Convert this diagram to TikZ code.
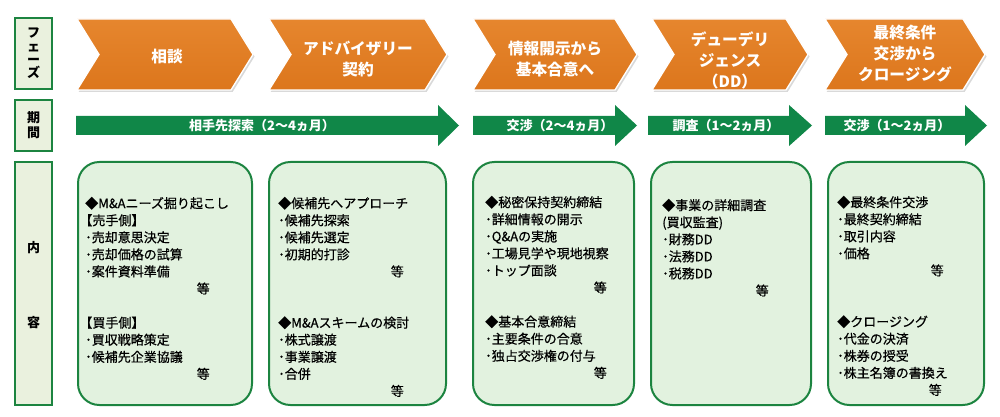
\documentclass[tikz,border=0pt]{standalone}
\usepackage{fontspec}
\setmainfont{Noto Sans CJK JP}
\newfontfamily\itemfont{Noto Sans CJK JP}[FakeBold=0.5]
\usetikzlibrary{shadows}

\definecolor{phaseorange}{RGB}{220,118,28}
\definecolor{phaseorangelt}{RGB}{230,134,46}
\definecolor{termgreen}{RGB}{16,135,72}
\definecolor{framegreen}{RGB}{28,132,64}
\definecolor{boxfill}{RGB}{226,242,223}
\definecolor{lblfill}{RGB}{234,241,222}

\begin{document}
\begin{tikzpicture}[x=0.75pt, y=-0.75pt,
    chevron/.style={top color=phaseorangelt, bottom color=phaseorange, draw=white, line width=1pt,
        drop shadow={shadow xshift=1.2pt, shadow yshift=-1.5pt, opacity=0.3}},
    termarrow/.style={fill=termgreen},
    phasetxt/.style={font=\fontsize{11.75}{15.75}\selectfont\bfseries, text=white, align=center},
    termtxt/.style={font=\fontsize{9.75}{12}\selectfont\bfseries, text=white},
    lbl/.style={draw=framegreen, line width=1.5pt, fill=lblfill, minimum width=27.75pt, inner sep=0pt},
    lbltxt/.style={font=\fontsize{9.75}{10}\selectfont\bfseries, align=center},
    itembox/.style={draw=framegreen, line width=1.5pt, fill=boxfill, rounded corners=16pt, minimum height=182.25pt, inner sep=0pt},
    itemtxt/.style={font=\itemfont\fontsize{9.75}{12.8}\selectfont, align=left, anchor=north west, inner sep=0pt}
]

% Canvas
\useasboundingbox (0,0) rectangle (1000,417);

% Row labels
\node[lbl, minimum height=53.25pt, lbltxt] (phaselbl) at (33.5,53.5) {フ\\ェ\\ー\\ズ};
\node[lbl, minimum height=38.25pt] (termlbl) at (33.5,125.5) {};
\node[lbltxt, font=\fontsize{9.75}{11.25}\selectfont\bfseries] (termlbltxt) at (termlbl) {期\\間};
\node[lbl, minimum height=182.25pt] (itemlbl) at (33.5,283.5) {};
\node[lbltxt] (itemlbl1) at (33.5,248) {内};
\node[lbltxt] (itemlbl2) at (33.5,323) {容};

% Phase chevrons
\path[chevron] (77,19) -- (231,19) -- (253,54.5) -- (231,90) -- (77,90) -- (99,54.5) -- cycle;
\path[chevron] (269,19) -- (425,19) -- (447,54.5) -- (425,90) -- (269,90) -- (291,54.5) -- cycle;
\path[chevron] (473,19) -- (615,19) -- (637,54.5) -- (615,90) -- (473,90) -- (495,54.5) -- cycle;
\path[chevron] (652,19) -- (786,19) -- (808,54.5) -- (786,90) -- (652,90) -- (674,54.5) -- cycle;
\path[chevron] (825,19) -- (963,19) -- (985,54.5) -- (963,90) -- (825,90) -- (847,54.5) -- cycle;

\node[phasetxt] (consult) at (167,57) {相談};
\node[phasetxt] (advisory) at (358,59) {アドバイザリー\\契約};
\node[phasetxt] (disclosure) at (555,59) {情報開示から\\基本合意へ};
\node[phasetxt] (duediligence) at (730,60) {デューデリ\\ジェンス\\（DD）};
\node[phasetxt] (closing) at (905,53.5) {最終条件\\交渉から\\クロージング};

% Term arrows
\fill[termarrow] (76,116) -- (438,116) -- (438,105) -- (459,125.5) -- (438,146) -- (438,135) -- (76,135) -- cycle;
\fill[termarrow] (473,116) -- (615,116) -- (615,105) -- (637,125.5) -- (615,146) -- (615,135) -- (473,135) -- cycle;
\fill[termarrow] (648,116) -- (789,116) -- (789,105) -- (812,125.5) -- (789,146) -- (789,135) -- (648,135) -- cycle;
\fill[termarrow] (825,116) -- (965,116) -- (965,105) -- (987,125.5) -- (965,146) -- (965,135) -- (825,135) -- cycle;

\node[termtxt] (search) at (262,126) {相手先探索（2～4ヵ月）};
\node[termtxt] (nego1) at (560,126) {交渉（2～4ヵ月）};
\node[termtxt] (survey) at (726,126) {調査（1～2ヵ月）};
\node[termtxt] (nego2) at (897,126) {交渉（1～2ヵ月）};

% Content boxes
\node[itembox, minimum width=130.5pt] (consultbox) at (165,283.5) {};
\node[itembox, minimum width=132.75pt] (advisorybox) at (357.5,283.5) {};
\node[itembox, minimum width=120.75pt] (disclosurebox) at (553.5,283.5) {};
\node[itembox, minimum width=120pt] (ddbox) at (731,283.5) {};
\node[itembox, minimum width=117pt] (closingbox) at (906,283.5) {};

\node[itemtxt] (consulttxt) at (85,196.6) {◆M\&Aニーズ掘り起こし\\
\hspace*{-0.45em}【売手側】\\
･売却意思決定\\
･売却価格の試算\\
･案件資料準備\\
\hspace*{83.6pt}等\\[12.8pt]
\hspace*{-0.45em}【買手側】\\
･買収戦略策定\\
･候補先企業協議\\
\hspace*{83.6pt}等};

\node[itemtxt] (advisorytxt) at (278,196.6) {◆候補先へアプローチ\\
･候補先探索\\
･候補先選定\\
･初期的打診\\
\hspace*{84.4pt}等\\[25.6pt]
◆M\&Aスキームの検討\\
･株式譲渡\\
･事業譲渡\\
･合併\\
\hspace*{84.4pt}等};

\node[itemtxt] (disclosuretxt) at (485,195.6) {◆秘密保持契約締結\\
･詳細情報の開示\\
･Q\&Aの実施\\
･工場見学や現地視察\\
･トップ面談\\
\hspace*{81.4pt}等\\[12.8pt]
◆基本合意締結\\
･主要条件の合意\\
･独占交渉権の付与\\
\hspace*{81.4pt}等};

\node[itemtxt] (ddtxt) at (662,198.6) {◆事業の詳細調査\\
(買収監査)\\
･財務DD\\
･法務DD\\
･税務DD\\
\hspace*{70.1pt}等};

\node[itemtxt] (closingtxt) at (837,195.6) {◆最終条件交渉\\
･最終契約締結\\
･取引内容\\
･価格\\
\hspace*{70.1pt}等\\[25.6pt]
◆クロージング\\
･代金の決済\\
･株券の授受\\
･株主名簿の書換え\\
\hspace*{68.6pt}等};

\end{tikzpicture}
\end{document}
